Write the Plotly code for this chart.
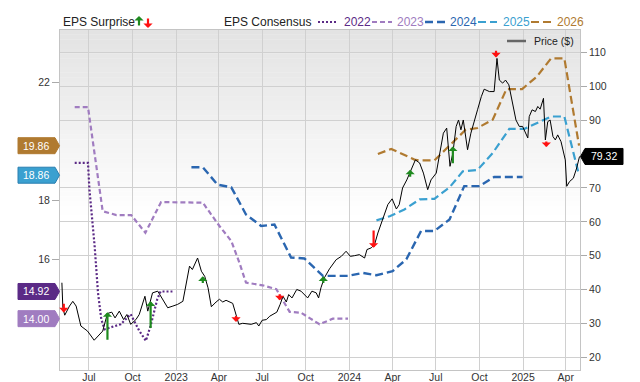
import plotly.graph_objects as go

# ---------------- data ----------------
price_dates = [
    "2022-05-05", "2022-05-07", "2022-05-11", "2022-05-21", "2022-05-28", "2022-06-04", "2022-06-14",
    "2022-06-28", "2022-07-12", "2022-07-19", "2022-07-30", "2022-08-09", "2022-08-18", "2022-08-25",
    "2022-09-03", "2022-09-12", "2022-09-19", "2022-09-27", "2022-10-08", "2022-10-15", "2022-10-22",
    "2022-10-27", "2022-11-02", "2022-11-12", "2022-11-23", "2022-11-30", "2022-12-14", "2022-12-25",
    "2023-01-04", "2023-01-15", "2023-01-22", "2023-01-29", "2023-02-04", "2023-02-09", "2023-02-15",
    "2023-02-23", "2023-03-02", "2023-03-09", "2023-03-16", "2023-03-26", "2023-04-02", "2023-04-09",
    "2023-04-16", "2023-04-30", "2023-05-07", "2023-05-13", "2023-05-21", "2023-06-08", "2023-06-19",
    "2023-06-24", "2023-07-01", "2023-07-10", "2023-07-17", "2023-07-24", "2023-08-01", "2023-08-08",
    "2023-08-14", "2023-08-21", "2023-08-26", "2023-09-02", "2023-09-12", "2023-09-21", "2023-09-28",
    "2023-10-05", "2023-10-14", "2023-10-23", "2023-10-28", "2023-11-02", "2023-11-09", "2023-11-20",
    "2023-12-04", "2023-12-15", "2023-12-25", "2024-01-03", "2024-01-12", "2024-01-22", "2024-02-02",
    "2024-02-07", "2024-02-16", "2024-02-23", "2024-03-01", "2024-03-11", "2024-03-22", "2024-03-31",
    "2024-04-09", "2024-04-15", "2024-04-22", "2024-05-01", "2024-05-10", "2024-05-19", "2024-05-28",
    "2024-06-05", "2024-06-14", "2024-06-21", "2024-07-02", "2024-07-10", "2024-07-17", "2024-07-24",
    "2024-07-31", "2024-08-06", "2024-08-13", "2024-08-18", "2024-08-23", "2024-08-28", "2024-09-06",
    "2024-09-13", "2024-09-20", "2024-09-27", "2024-10-05", "2024-10-11", "2024-10-22", "2024-11-01",
    "2024-11-07", "2024-11-12", "2024-11-19", "2024-11-25", "2024-12-02", "2024-12-09", "2024-12-17",
    "2024-12-24", "2024-12-31", "2025-01-11", "2025-01-14", "2025-01-20", "2025-01-27", "2025-02-01",
    "2025-02-06", "2025-02-13", "2025-02-17", "2025-02-22", "2025-02-27", "2025-03-05", "2025-03-10",
    "2025-03-15", "2025-03-22", "2025-03-31", "2025-04-03", "2025-04-09", "2025-04-17", "2025-04-24",
    "2025-04-30",
]
price_values = [
    42.0, 34.6, 32.4, 35.1, 36.5, 35.1, 29.2,
    27.7, 25.0, 26.0, 27.7, 32.9, 33.3, 31.6,
    33.6, 31.1, 32.6, 29.7, 31.1, 32.6, 35.6,
    38.0, 33.6, 39.0, 39.5, 38.0, 34.6, 35.1,
    35.6, 36.5, 42.0, 46.9, 45.9, 47.4, 49.3,
    45.4, 43.9, 40.5, 34.9, 36.3, 37.1, 36.3,
    36.8, 35.9, 32.6, 29.7, 30.0, 29.7, 30.2,
    29.2, 30.9, 31.1, 32.1, 32.6, 33.3, 35.6,
    38.0, 36.3, 38.5, 37.5, 40.0, 39.5, 38.5,
    37.5, 39.5, 39.0, 37.5, 40.5, 43.4, 46.1,
    48.8, 49.8, 51.3, 49.8, 50.0, 50.3, 49.3,
    51.8, 52.3, 53.3, 56.7, 60.6, 65.1, 66.8,
    63.8, 65.1, 70.0, 72.4, 75.4, 78.3, 77.4,
    74.4, 69.5, 72.4, 74.4, 80.3, 86.2, 87.7,
    76.4, 80.3, 88.2, 90.1, 87.2, 90.1, 81.3,
    86.2, 90.1, 93.1, 97.0, 99.2, 98.5, 98.5,
    108.3, 101.9, 101.0, 101.9, 100.5, 96.0, 90.1,
    88.2, 88.2, 84.8, 91.1, 93.1, 92.6, 94.1,
    93.3, 96.5, 84.2, 89.6, 90.1, 85.2, 84.2,
    85.7, 83.7, 78.3, 70.5, 71.9, 72.9, 75.9,
    79.32,
]

eps2022_dates = ["2022-06-01", "2022-06-29", "2022-07-02", "2022-07-13", "2022-07-20", "2022-07-27",
                 "2022-08-03", "2022-08-16", "2022-09-06", "2022-09-27", "2022-10-04", "2022-10-15",
                 "2022-10-29", "2022-11-08", "2022-11-22", "2022-11-29", "2022-12-24"]
eps2022_values = [19.28, 19.28, 18.38, 16.46, 14.89, 13.98,
                  13.64, 13.70, 13.81, 14.15, 13.93, 13.59,
                  13.25, 13.76, 14.66, 14.92, 14.92]

eps2023_dates = ["2022-06-01", "2022-06-29", "2022-07-30", "2022-08-28", "2022-09-28", "2022-10-28",
                 "2022-11-30", "2023-02-26", "2023-04-02", "2023-04-27", "2023-05-14", "2023-05-28",
                 "2023-07-02", "2023-07-31", "2023-08-28", "2023-09-21", "2023-10-30", "2023-11-27",
                 "2023-12-29"]
eps2023_values = [21.17, 21.17, 17.64, 17.51, 17.51, 16.91,
                  17.95, 17.93, 17.14, 16.63, 15.90, 15.22,
                  15.13, 15.00, 14.23, 14.20, 13.81, 14.00,
                  14.00]

eps2024_dates = ["2023-02-02", "2023-02-26", "2023-03-29", "2023-04-27", "2023-05-28", "2023-06-29",
                 "2023-07-27", "2023-08-31", "2023-09-28", "2023-11-06", "2023-12-29", "2024-01-29",
                 "2024-02-27", "2024-04-01", "2024-04-30", "2024-05-31", "2024-06-28", "2024-07-30",
                 "2024-08-30", "2024-10-01", "2024-11-01", "2024-12-31"]
eps2024_values = [19.13, 19.13, 18.54, 18.45, 17.53, 17.14,
                  17.19, 16.07, 16.04, 15.45, 15.45, 15.55,
                  15.47, 15.61, 16.01, 16.97, 16.97, 17.36,
                  18.49, 18.49, 18.80, 18.80]

eps2025_dates = ["2024-02-27", "2024-03-26", "2024-04-26", "2024-05-28", "2024-06-28", "2024-07-30",
                 "2024-08-27", "2024-09-27", "2024-10-29", "2024-12-03", "2025-01-04", "2025-02-04",
                 "2025-03-01", "2025-03-29", "2025-04-29"]
eps2025_values = [17.33, 17.47, 17.70, 18.04, 18.06, 18.45,
                  18.99, 19.04, 19.61, 20.43, 20.43, 20.65,
                  20.85, 20.85, 18.86]

eps2026_dates = ["2024-03-01", "2024-03-29", "2024-05-17", "2024-05-28", "2024-06-28", "2024-07-30",
                 "2024-09-02", "2024-09-27", "2024-10-29", "2024-11-27", "2024-12-30", "2025-01-30",
                 "2025-03-01", "2025-03-29", "2025-04-29"]
eps2026_values = [19.58, 19.75, 19.39, 19.36, 19.36, 19.88,
                  20.40, 20.46, 20.74, 21.78, 21.78, 22.20,
                  22.82, 22.82, 19.86]

surprise_dates = ["2022-05-09", "2022-08-09", "2022-11-08", "2023-02-26", "2023-05-07", "2023-08-07",
                  "2023-11-07", "2024-02-21", "2024-05-08", "2024-08-06", "2024-11-05", "2025-02-19"]
surprise_dirs = ["down", "up", "up", "up", "down", "down",
                 "up", "down", "up", "up", "down", "down"]
surprise_head = [33.2, 33.3, 36.5, 43.9, 30.4, 36.8,
                 43.9, 52.3, 75.4, 82.3, 108.6, 82.1]
surprise_tail = [36.2, 24.7, 28.2, 41.5, 32.6, 39.0,
                 41.5, 57.9, 72.9, 76.9, 111.0, 84.2]

x_tickvals = ["2022-07-01", "2022-10-01", "2023-01-01", "2023-04-01", "2023-07-01", "2023-10-01",
              "2024-01-01", "2024-04-01", "2024-07-01", "2024-10-01", "2025-01-01", "2025-04-01"]
x_ticktext = ["Jul", "Oct", "2023", "Apr", "Jul", "Oct", "2024", "Apr", "Jul", "Oct", "2025", "Apr"]
eps_tickvals = [16, 18, 22]
price_tickvals = [20, 30, 40, 50, 60, 70, 90, 100, 110]

# ---------------- styling ----------------
FONT = "Arial, Liberation Sans, sans-serif"
OFF = 8                      # page (body) margin of the browser
W, H = 640 - OFF, 382 - OFF  # figure size so that the page fits the window
PL, PR, PT, PB = 60, 580, 30, 370   # plot area in window pixels
L, T = PL - OFF, PT - OFF
PW, PH = PR - PL, PB - PT
R, B = W - L - PW, H - T - PH


def px(x):
    return (x - PL) / PW


def py(y):
    return (PB - y) / PH


series = [
    ("2022", eps2022_dates, eps2022_values, "#5b2a86", "2px,2px", 2.2),
    ("2023", eps2023_dates, eps2023_values, "#a07cc0", "5px,3px", 2.2),
    ("2024", eps2024_dates, eps2024_values, "#2a66b0", "8px,4px", 2.4),
    ("2025", eps2025_dates, eps2025_values, "#3aa0d0", "8px,4px", 2.2),
    ("2026", eps2026_dates, eps2026_values, "#b07a30", "8px,4px", 2.2),
]

fig = go.Figure()
for name, d, v, c, dash, w in series:
    fig.add_trace(go.Scatter(x=d, y=v, mode="lines", name=name, yaxis="y",
                             line=dict(color=c, width=w, dash=dash), showlegend=False))

fig.add_trace(go.Scatter(x=price_dates, y=price_values, mode="lines", name="Price ($)",
                         yaxis="y2", line=dict(color="#000000", width=1), showlegend=False))

shapes = []
annotations = []

# gradient background (top of plot)
N = 40
frac = 0.56
for i in range(N):
    t = i / (N - 1)
    g = int(round(227 + (255 - 227) * t))
    shapes.append(dict(type="rect", xref="x domain", yref="y domain", layer="below",
                       x0=0, x1=1, y0=1 - (i + 1) * frac / N, y1=1 - i * frac / N + 0.001,
                       fillcolor=f"rgb({g},{g},{g})", line=dict(width=0)))

ARROW = dict(showarrow=True, arrowhead=1, arrowsize=0.7, arrowwidth=2.2, standoff=0, text="")

# surprise arrows
for d, s, hv, tv in zip(surprise_dates, surprise_dirs, surprise_head, surprise_tail):
    col = "#1f8a1f" if s == "up" else "#ff1010"
    annotations.append(dict(x=d, y=hv, xref="x", yref="y2", ax=0, ay=tv, axref="pixel", ayref="y2",
                            arrowcolor=col, **ARROW))

# value tags on the left (EPS)
EPS_RANGE = [12.26, 23.78]
PRICE_RANGE = [16.2, 116.7]
tag_specs = [(eps2026_values[-1], "#b07a30", None), (eps2025_values[-1], "#3aa0d0", "#2a7fb0"),
             (eps2022_values[-1], "#5b2a86", None), (eps2023_values[-1], "#a07cc0", None)]
hh = 8 / (PH / (EPS_RANGE[1] - EPS_RANGE[0]))
for val, col, edge in tag_specs:
    x0, x1, xt = px(18), px(55), px(59.5)
    path = (f"M {x0},{val + hh} L {x1},{val + hh} L {xt},{val} L {x1},{val - hh} "
            f"L {x0},{val - hh} Z")
    shapes.append(dict(type="path", xref="paper", yref="y", path=path, fillcolor=col,
                       line=dict(color=edge or col, width=1)))
    annotations.append(dict(x=(x0 + x1) / 2, y=val, xref="paper", yref="y", text=f"{val:.2f}",
                            showarrow=False, font=dict(family=FONT, size=10.5, color="#ffffff"),
                            xanchor="center", yanchor="middle"))

# price tag on the right
pv = price_values[-1]
hh2 = 8 / (PH / (PRICE_RANGE[1] - PRICE_RANGE[0]))
x0, x1, xt = px(585), px(623), px(580.5)
shapes.append(dict(type="path", xref="paper", yref="y2",
                   path=f"M {xt},{pv} L {x0},{pv + hh2} L {x1},{pv + hh2} L {x1},{pv - hh2} L {x0},{pv - hh2} Z",
                   fillcolor="#000000", line=dict(color="#000000", width=1)))
annotations.append(dict(x=(x0 + x1) / 2, y=pv, xref="paper", yref="y2", text=f"{pv:.2f}",
                        showarrow=False, font=dict(family=FONT, size=10.5, color="#ffffff"),
                        xanchor="center", yanchor="middle"))

# top legend
ly = py(22)
annotations.append(dict(x=px(60.5), y=ly, xref="paper", yref="paper", text="EPS Surprise",
                        showarrow=False, xanchor="left", yanchor="middle",
                        font=dict(family=FONT, size=12, color="#222222")))
annotations.append(dict(x=px(139), y=py(16), xref="paper", yref="paper", ax=0, ay=11,
                        arrowcolor="#1f8a1f", **ARROW))
annotations.append(dict(x=px(148), y=py(28), xref="paper", yref="paper", ax=0, ay=-11,
                        arrowcolor="#ff1010", **ARROW))
annotations.append(dict(x=px(221.5), y=ly, xref="paper", yref="paper", text="EPS Consensus",
                        showarrow=False, xanchor="left", yanchor="middle",
                        font=dict(family=FONT, size=12, color="#222222")))
legend_pos = [(318, 337, 342), (372, 392, 395), (425, 445, 448), (478, 497, 501), (531, 552, 555)]
for (name, d, v, c, dash, w), (sx0, sx1, tx) in zip(series, legend_pos):
    shapes.append(dict(type="line", xref="paper", yref="paper", x0=px(sx0), x1=px(sx1),
                       y0=ly, y1=ly, line=dict(color=c, width=w, dash=dash)))
    annotations.append(dict(x=px(tx), y=ly, xref="paper", yref="paper", text=name,
                            showarrow=False, xanchor="left", yanchor="middle",
                            font=dict(family=FONT, size=12, color=c)))

# price legend inside plot
shapes.append(dict(type="line", xref="paper", yref="paper", x0=px(507), x1=px(526),
                   y0=py(41), y1=py(41), line=dict(color="#666666", width=2.5)))
annotations.append(dict(x=px(532), y=py(41), xref="paper", yref="paper", text="Price ($)",
                        showarrow=False, xanchor="left", yanchor="middle",
                        font=dict(family=FONT, size=10.5, color="#222222")))

grid = "#d0d0d0"
fig.update_layout(
    width=W, height=H,
    margin=dict(l=L, r=R, t=T, b=B, pad=0, autoexpand=False),
    paper_bgcolor="#ffffff", plot_bgcolor="#ffffff",
    font=dict(family=FONT, size=10.5, color="#333333"),
    showlegend=False,
    shapes=shapes, annotations=annotations,
    xaxis=dict(type="date", range=["2022-05-01", "2025-05-01"], tickvals=x_tickvals,
               ticktext=x_ticktext, showgrid=True, gridcolor=grid, gridwidth=1,
               showline=True, linecolor="#c4c4c4", mirror=True, ticks="", zeroline=False,
               automargin=False, ticklabelstandoff=-3,
               tickfont=dict(size=10.5, color="#333333")),
    yaxis=dict(range=EPS_RANGE, tickvals=eps_tickvals, showgrid=False, zeroline=False,
               ticks="outside", ticklen=7, tickcolor="#aaaaaa", showline=True,
               linecolor="#c4c4c4", mirror=True, automargin=False,
               tickfont=dict(size=10.5, color="#333333")),
    yaxis2=dict(range=PRICE_RANGE, tickvals=price_tickvals, overlaying="y", side="right",
                showgrid=True, gridcolor=grid, gridwidth=1, zeroline=False,
                ticks="outside", ticklen=6, tickcolor="#aaaaaa", automargin=False,
                tickfont=dict(size=10.5, color="#333333")),
)

fig.write_html("out.html")
